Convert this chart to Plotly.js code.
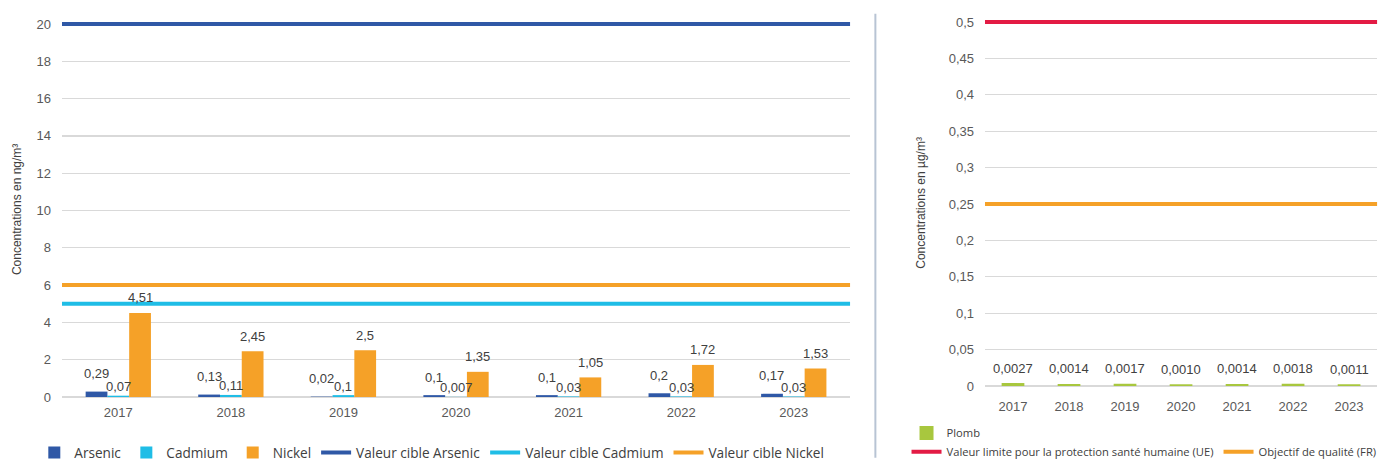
<!DOCTYPE html>
<html>
<head>
<meta charset="utf-8">
<script src="https://cdn.plot.ly/plotly-3.0.1.min.js"></script>
<style>html,body{margin:0;padding:0;background:#fff;}#chart{width:1384px;height:462px;}</style>
</head>
<body>
<div id="chart"></div>
<script>
const years = ['2017', '2018', '2019', '2020', '2021', '2022', '2023'];
const arsenic = [0.29, 0.13, 0.02, 0.1, 0.1, 0.2, 0.17];
const cadmium = [0.07, 0.11, 0.1, 0.007, 0.03, 0.03, 0.03];
const nickel = [4.51, 2.45, 2.5, 1.35, 1.05, 1.72, 1.53];
const plomb = [0.0027, 0.0014, 0.0017, 0.0010, 0.0014, 0.0018, 0.0011];
const targetsLeft = [
  {name: 'Valeur cible Arsenic', value: 20, color: '#2f58a6'},
  {name: 'Valeur cible Cadmium', value: 5, color: '#1fbde6'},
  {name: 'Valeur cible Nickel', value: 6, color: '#f5a128'}
];
const targetsRight = [
  {name: 'Valeur limite pour la protection santé humaine (UE)', value: 0.5, color: '#e31b44'},
  {name: 'Objectif de qualité (FR)', value: 0.25, color: '#f5a128'}
];

const W = 1384, H = 462;
const xDom1 = [0.0448, 0.6142];
const xDom2 = [0.7117, 0.995];
const BARGAP = 0.42;

const fr = v => String(v).replace('.', ',');
const labelFont = {family: 'Liberation Sans, Arial', size: 13, color: '#404040'};

function barTrace(name, vals, color, rank) {
  return {
    type: 'bar', name: name, x: years, y: vals, xaxis: 'x', yaxis: 'y',
    marker: {color: color},
    legend: 'legend', legendrank: rank, hoverinfo: 'skip'
  };
}

const data = [
  barTrace('Arsenic', arsenic, '#2f58a6', 1),
  barTrace('Cadmium', cadmium, '#1fbde6', 2),
  barTrace('Nickel', nickel, '#f5a128', 3),
  {
    type: 'bar', name: 'Plomb', x: years, y: plomb, xaxis: 'x2', yaxis: 'y2',
    width: 0.37,
    marker: {color: '#a8c73e', line: {color: '#a8c73e', width: 2}},
    legend: 'legend2', hoverinfo: 'skip'
  }
];

// data labels as annotations anchored on the data values (category axis -> serial index)
const catW = (xDom1[1] - xDom1[0]) * W / years.length;
const barW = catW * (1 - BARGAP) / 3;
const annotations = [];
[[arsenic, -barW, 18], [cadmium, 0, 9], [nickel, barW, 15]].forEach(([vals, dx, dy]) => {
  vals.forEach((v, i) => annotations.push({
    xref: 'x', yref: 'y', x: i, y: v, text: fr(v), showarrow: false,
    xshift: dx, yshift: dy, yanchor: 'middle', font: labelFont
  }));
});
plomb.forEach((v, i) => annotations.push({
  xref: 'x2', yref: 'y2', x: i, y: v, text: v.toFixed(4).replace('.', ','),
  showarrow: false, yshift: 16, yanchor: 'middle', font: labelFont
}));

const shapes = [];
targetsLeft.forEach((t, i) => shapes.push({
  type: 'line', xref: 'x domain', yref: 'y', x0: 0, x1: 1, y0: t.value, y1: t.value,
  line: {color: t.color, width: 4}, layer: 'above',
  showlegend: true, name: t.name, legend: 'legend', legendrank: 4 + i
}));
targetsRight.forEach((t, i) => shapes.push({
  type: 'line', xref: 'x2 domain', yref: 'y2', x0: 0, x1: 1, y0: t.value, y1: t.value,
  line: {color: t.color, width: 4}, layer: 'above',
  showlegend: true, name: t.name, legend: 'legend3', legendrank: 1 + i
}));
shapes.push({
  type: 'line', xref: 'paper', yref: 'paper', x0: 0.6325, x1: 0.6325, y0: 0.009, y1: 0.97,
  line: {color: '#b8c4d4', width: 2}
});

const tickFont = {family: 'Liberation Sans, Arial', size: 13, color: '#595959'};
const titleFont = {family: 'Liberation Sans, Arial', size: 12, color: '#404040'};

const layout = {
  width: W, height: H,
  margin: {l: 0, r: 0, t: 0, b: 0, autoexpand: false},
  paper_bgcolor: '#ffffff', plot_bgcolor: '#ffffff',
  separators: ', ',
  bargap: BARGAP, bargroupgap: 0,
  barmode: 'group',
  showlegend: true,
  xaxis: {
    domain: xDom1, type: 'category', range: [-0.5, years.length - 0.5], tickfont: tickFont,
    showgrid: false, showline: false, zeroline: false, ticks: '', ticklabelstandoff: 6
  },
  yaxis: {
    domain: [0.1407, 0.9529], range: [0, 20.12], tickvals: [0, 2, 4, 6, 8, 10, 12, 14, 16, 18, 20],
    tickfont: tickFont,
    gridcolor: '#d9d9d9', gridwidth: 1.3, zeroline: true, zerolinecolor: '#d9d9d9', zerolinewidth: 1.5,
    showline: false, ticks: '', ticklabelstandoff: 10,
    title: {text: 'Concentrations en ng/m³', font: titleFont, standoff: 12}
  },
  xaxis2: {
    domain: xDom2, type: 'category', range: [-0.5, years.length - 0.5], anchor: 'y2', tickfont: tickFont,
    showgrid: false, showline: false, zeroline: false, ticks: '', ticklabelstandoff: 11
  },
  yaxis2: {
    domain: [0.1645, 0.9571], range: [0, 0.503],
    tickvals: [0, 0.05, 0.1, 0.15, 0.2, 0.25, 0.3, 0.35, 0.4, 0.45, 0.5], anchor: 'x2', tickfont: tickFont,
    gridcolor: '#d9d9d9', gridwidth: 1.3, zeroline: true, zerolinecolor: '#d9d9d9', zerolinewidth: 1.5,
    showline: false, ticks: '', ticklabelstandoff: 10,
    title: {text: 'Concentrations en µg/m³', font: titleFont, standoff: 20}
  },
  legend: {
    orientation: 'h', x: 0.312, xanchor: 'center', y: 0.02, yanchor: 'middle',
    font: {family: 'Open Sans', size: 13.6, color: '#404040'}, traceorder: 'normal',
    itemwidth: 30, bgcolor: 'rgba(0,0,0,0)'
  },
  legend2: {
    orientation: 'h', x: 0.655, xanchor: 'left', y: 0.063, yanchor: 'middle',
    font: {family: 'Open Sans', size: 11.2, color: '#404040'}, bgcolor: 'rgba(0,0,0,0)'
  },
  legend3: {
    orientation: 'h', x: 0.655, xanchor: 'left', y: 0.022, yanchor: 'middle',
    font: {family: 'Open Sans', size: 11.2, color: '#404040'}, bgcolor: 'rgba(0,0,0,0)'
  },
  annotations: annotations,
  shapes: shapes
};

Plotly.newPlot('chart', data, layout, {displayModeBar: false, staticPlot: true});
</script>
</body>
</html>
